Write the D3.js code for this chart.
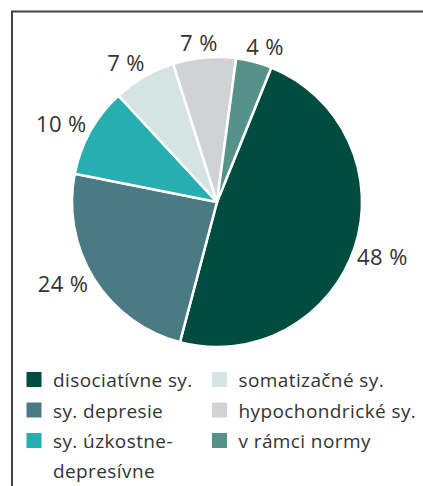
<!DOCTYPE html>
<html><head><meta charset="utf-8">
<script src="https://cdn.jsdelivr.net/npm/d3@7"></script>
<style>
html,body{margin:0;padding:0;background:#fff;}
svg{display:block;font-family:"Open Sans",sans-serif;}
</style></head>
<body><svg id="c" width="423" height="486"></svg>
<script>
// ---- data ----
const categories = ["disociatívne sy.", "sy. depresie", "sy. úzkostne-depresívne", "somatizačné sy.", "hypochondrické sy.", "v rámci normy"];
const values = [48, 24, 10, 7, 7, 4];
const valueLabels = ["48 %", "24 %", "10 %", "7 %", "7 %", "4 %"];
const colors = ["#004c3f", "#4a7b84", "#27aeb1", "#d3e4e2", "#d1d2d4", "#55938a"];

// ---- layout ----
const svg = d3.select("#c");
const cx = 217, cy = 202, R = 145;
const startDeg = 22;
const labelNudgeDeg = [0, 4, -2.5, -3, -1.5, 2.4];
const labelGap = 2;
const labelSize = 22;

// frame
svg.append("path").attr("d", "M12,486 V11.5 H423").attr("fill", "none").attr("stroke", "#444").attr("stroke-width", 2);

const pie = d3.pie().sort(null).value(d => d)
  .startAngle(startDeg * Math.PI / 180).endAngle(startDeg * Math.PI / 180 + 2 * Math.PI);
const arcs = pie(values);
const arc = d3.arc().innerRadius(0).outerRadius(R);
const g = svg.append("g").attr("transform", `translate(${cx},${cy})`);
g.selectAll("path.slice").data(arcs).join("path").attr("class", "slice")
  .attr("d", arc).attr("fill", (d, i) => colors[i])
  .attr("stroke", "#fff").attr("stroke-width", 2.5).attr("stroke-linejoin", "round");

// value labels
arcs.forEach((a, i) => {
  const ang = (a.startAngle + a.endAngle) / 2 + labelNudgeDeg[i] * Math.PI / 180;
  const t = g.append("text").text(valueLabels[i]).attr("font-size", labelSize)
    .attr("letter-spacing", 0.4).attr("fill", "#333");
  const bb = t.node().getBBox();
  const s = Math.sin(ang), c = -Math.cos(ang);
  const h = 21;
  const d = R + labelGap + Math.abs(s) * bb.width / 2 + Math.abs(c) * h / 2;
  const px = d * s, py = d * c;
  t.attr("x", px - bb.width / 2).attr("y", py + labelSize * 0.36);
});

// legend
const legCols = [26.5, 212];
const legRows = [387, 417.5, 448];
const legItems = [
  {i: 0, col: 0, row: 0, lines: ["disociatívne sy."]},
  {i: 1, col: 0, row: 1, lines: ["sy. depresie"]},
  {i: 2, col: 0, row: 2, lines: ["sy. úzkostne-", "depresívne"]},
  {i: 3, col: 1, row: 0, lines: ["somatizačné sy."]},
  {i: 4, col: 1, row: 1, lines: ["hypochondrické sy."]},
  {i: 5, col: 1, row: 2, lines: ["v rámci normy"]}
];
const leg = svg.append("g");
legItems.forEach(it => {
  const x = legCols[it.col], y = legRows[it.row];
  leg.append("rect").attr("x", x).attr("y", y - 15).attr("width", 15).attr("height", 15).attr("fill", colors[it.i]);
  const t = leg.append("text").attr("x", x + 26.5).attr("y", y).attr("font-size", 19)
    .attr("letter-spacing", 0.4).attr("fill", "#333");
  it.lines.forEach((ln, k) => {
    t.append("tspan").attr("x", x + 26.5).attr("dy", k === 0 ? 0 : 29.5).text(ln);
  });
});
</script></body></html>
